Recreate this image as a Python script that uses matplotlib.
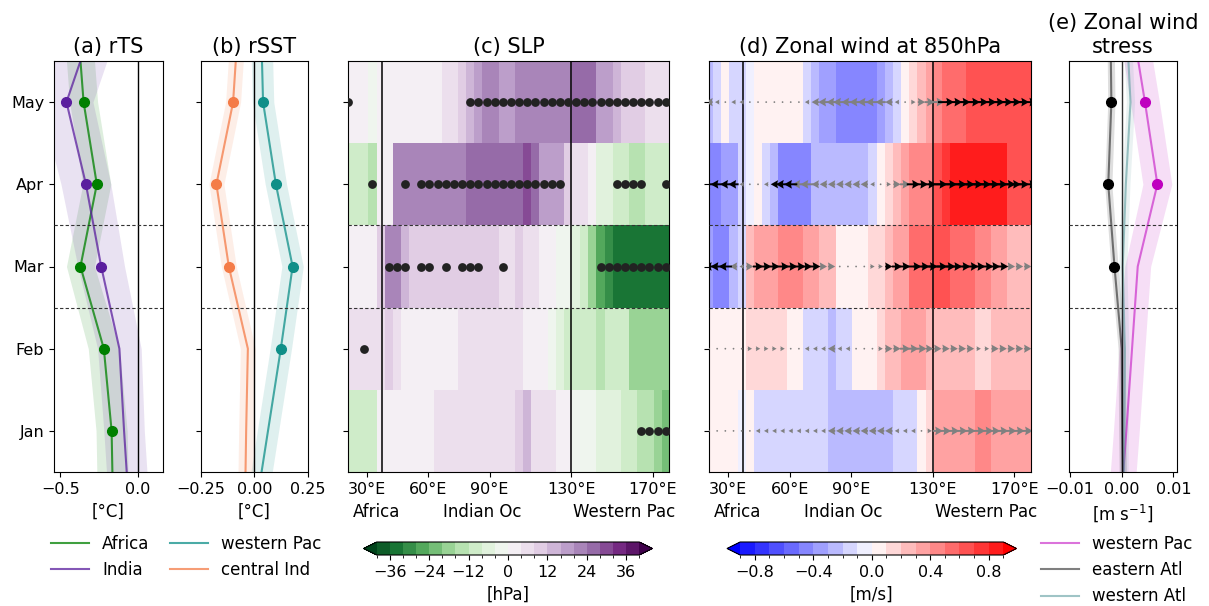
import numpy as np
import matplotlib.pyplot as plt
from matplotlib.colors import BoundaryNorm

# months on the y axis (Dec and Jun only used so lines run to the panel edges)
months = ['Jan', 'Feb', 'Mar', 'Apr', 'May']
month_pos = [-1, 0, 1, 2, 3, 4, 5]   # Dec .. Jun

# (a) rTS [degC]
rts_africa = [-0.16, -0.17, -0.22, -0.37, -0.265, -0.35, -0.39]
rts_africa_err = [0.10, 0.10, 0.10, 0.09, 0.09, 0.09, 0.09]
rts_africa_sig = [0, 1, 1, 1, 1, 1, 0]
rts_india = [-0.056, -0.09, -0.12, -0.237, -0.335, -0.46, -0.28]
rts_india_err = [0.13, 0.13, 0.14, 0.15, 0.16, 0.17, 0.17]
rts_india_sig = [0, 0, 0, 1, 1, 1, 0]

# (b) rSST [degC]
sst_wpac = [0.003, 0.063, 0.123, 0.178, 0.10, 0.04, 0.03]
sst_wpac_err = [0.05, 0.05, 0.05, 0.05, 0.05, 0.05, 0.05]
sst_wpac_sig = [0, 0, 1, 1, 1, 1, 0]
sst_cind = [-0.045, -0.039, -0.031, -0.12, -0.178, -0.10, -0.075]
sst_cind_err = [0.035, 0.035, 0.035, 0.035, 0.035, 0.035, 0.035]
sst_cind_sig = [0, 0, 0, 1, 1, 1, 0]

# (e) zonal wind stress [m s-1]
tau_wpac = [-0.0003, 0.0009, 0.0020, 0.0031, 0.0069, 0.0045, 0.0019]
tau_wpac_err = [0.0025, 0.0025, 0.0025, 0.0025, 0.0028, 0.0028, 0.0028]
tau_wpac_sig = [0, 0, 0, 0, 1, 1, 0]
tau_eatl = [0.0003, 0.0001, 0.0000, -0.0014, -0.0026, -0.0020, -0.0022]
tau_eatl_err = [0.0007, 0.0007, 0.0007, 0.0007, 0.0007, 0.0007, 0.0007]
tau_eatl_sig = [0, 0, 0, 1, 1, 1, 0]
tau_watl = [0.0004, 0.0005, 0.0006, 0.0002, 0.0008, 0.0017, 0.0009]
tau_watl_err = [0.0008, 0.0008, 0.0008, 0.0008, 0.0008, 0.0008, 0.0008]

# longitude grid for the Hovmoller-like panels
lons = np.arange(20.5, 177, 4)

# (c) SLP [hPa], rows Jan..May
slp_jan = [-10, -10, -10, -10, 2, 2, 2, 2, 2, 2, 2, 6, 6, 6, 6, 6, 6, 6, 6, 6,
           6, 10, 14, 6, 6, 6, 2, 2, -2, -2, -2, -6, -6, -6, -10, -10, -14, -14, -18, -22]
slp_feb = [6, 6, 6, 6, 6, 10, 6, 2, 2, 2, 2, 2, 2, 2, 6, 6, 6, 6, 6, 6,
           6, 6, 2, 2, 2, -2, -6, -10, -10, -10, -10, -14, -10, -10, -10, -18, -18, -18, -18, -18]
slp_mar = [2, 2, 2, 2, 10, 22, 22, 14, 10, 10, 10, 10, 10, 10, 10, 10, 10, 10, 10, 6,
           6, 10, 6, 6, 2, 2, -2, -2, -6, -10, -18, -26, -30, -34, -34, -34, -34, -34, -34, -34]
slp_apr = [-10, -10, -10, -14, 2, 2, 22, 22, 22, 22, 22, 22, 22, 22, 22, 26, 26, 26, 26, 26,
           26, 26, 30, 26, 18, 18, 18, 10, 6, 6, 2, -6, -6, -10, -10, -14, -14, -10, -10, -10]
slp_may = [2, 2, 2, -2, 2, 2, 2, 2, 2, 2, 2, 2, 6, 6, 10, 14, 18, 22, 22, 18,
           18, 22, 22, 22, 22, 22, 22, 22, 26, 26, 26, 18, 18, 14, 10, 10, 10, 6, 6, 6]
# significant grid points (index into lons)
slp_sig = {
    0: [36, 37, 38, 39],
    1: [2],
    2: [5, 6, 7, 9, 10, 12, 14, 15, 16, 19] + list(range(31, 40)),
    3: [3, 7] + list(range(9, 27)) + [33, 34, 35, 36, 39],
    4: [0] + list(range(15, 40)),
}

# (d) zonal wind at 850hPa [m/s], rows Jan..May
u_jan = [0.05, 0.05, 0.05, 0.05, -0.05, 0.05, -0.15, -0.15, -0.15, -0.15, -0.15, -0.15, -0.15, -0.15,
         -0.15, -0.25, -0.25, -0.25, -0.25, -0.25, -0.25, -0.25, -0.25, -0.15, -0.15, -0.15, 0.05,
         0.15, 0.35, 0.35, 0.35, 0.35, 0.35, 0.45, 0.45, 0.35, 0.35, 0.35, 0.35, 0.35]
u_feb = [0.05, 0.05, 0.05, 0.05, 0.05, 0.15, 0.15, 0.15, 0.15, 0.15, 0.05, 0.05, -0.15, -0.15,
         -0.15, -0.25, -0.15, -0.15, 0.05, 0.05, 0.05, 0.15, 0.25, 0.25, 0.35, 0.35, 0.35,
         0.25, 0.25, 0.25, 0.25, 0.25, 0.25, 0.15, 0.15, 0.25, 0.25, 0.25, 0.25, 0.25]
u_mar = [-0.35, -0.45, -0.45, -0.25, -0.15, 0.25, 0.35, 0.35, 0.35, 0.45, 0.45, 0.45, 0.35, 0.35,
         0.25, 0.25, 0.05, 0.05, 0.05, 0.05, 0.15, 0.15, 0.25, 0.35, 0.35, 0.55, 0.55,
         0.55, 0.65, 0.65, 0.55, 0.55, 0.55, 0.45, 0.45, 0.35, 0.35, 0.25, 0.25, 0.25]
u_apr = [-0.45, -0.45, -0.35, -0.35, -0.15, -0.05, 0.05, -0.15, -0.25, -0.45, -0.45, -0.45, -0.45,
         -0.25, -0.25, -0.25, -0.25, -0.25, -0.25, -0.25, -0.15, 0.05, 0.15, 0.25, 0.35, 0.45,
         0.45, 0.45, 0.65, 0.75, 0.85, 0.85, 0.85, 0.85, 0.85, 0.85, 0.85, 0.65, 0.65, 0.65]
u_may = [-0.25, -0.15, 0.05, -0.15, -0.15, -0.05, 0.05, 0.05, 0.05, 0.05, 0.05, 0.05, -0.15, -0.25,
         -0.35, -0.35, -0.45, -0.45, -0.45, -0.45, -0.45, -0.35, -0.25, -0.15, 0.05, 0.15, 0.25,
         0.35, 0.45, 0.55, 0.55, 0.55, 0.65, 0.65, 0.65, 0.65, 0.65, 0.65, 0.65, 0.65]
u_sig = {
    0: [],
    1: [],
    2: [0, 1, 2] + list(range(6, 14)) + list(range(22, 37)),
    3: [0, 1, 2, 3, 8, 9, 10] + list(range(25, 40)),
    4: list(range(29, 40)),
}

slp_levels = np.arange(-40, 41, 4)
u_levels = np.round(np.linspace(-0.9, 0.9, 19), 2)

fs_tick = 11.5
fs_title = 15
plt.rcParams['xtick.labelsize'] = fs_tick
plt.rcParams['ytick.labelsize'] = fs_tick

fig = plt.figure(figsize=(12.09, 6.06), dpi=100)
W, H = 1209, 606


def add_ax(x0, x1, y0=61, y1=472):
    return fig.add_axes([x0 / W, (H - y1) / H, (x1 - x0) / W, (y1 - y0) / H])


ax_a = add_ax(54, 163)
ax_b = add_ax(201, 308)
ax_c = add_ax(348, 669)
ax_d = add_ax(709, 1031)
ax_e = add_ax(1069, 1177)


def profile(ax, vals, err, sig, color, label, alpha=0.75):
    ln, = ax.plot(vals, month_pos, color=color, lw=1.5, alpha=alpha, label=label)
    lo = np.array(vals) - np.array(err)
    hi = np.array(vals) + np.array(err)
    ax.fill_betweenx(month_pos, lo, hi, color=color, alpha=0.13, lw=0)
    if sig is not None:
        xs = [v for v, s in zip(vals, sig) if s]
        ys = [p for p, s in zip(month_pos, sig) if s]
        ax.plot(xs, ys, 'o', color=color, ms=7)
    return ln


def frame(ax):
    ax.set_ylim(-0.5, 4.5)
    ax.set_yticks(range(5))
    ax.set_yticklabels([])
    for y in (1.5, 2.5):
        ax.axhline(y, color='#333333', lw=0.8, ls=(0, (3, 2)), zorder=4)


# (a)
h_af = profile(ax_a, rts_africa, rts_africa_err, rts_africa_sig, 'green', 'Africa')
h_in = profile(ax_a, rts_india, rts_india_err, rts_india_sig, '#5b1f9e', 'India')
ax_a.axvline(0, color='k', lw=1)
frame(ax_a)
ax_a.set_yticklabels(months)
ax_a.set_xlim(-0.54, 0.16)
ax_a.set_xticks([-0.5, 0.0])
ax_a.set_xlabel('[°C]', fontsize=12)
ax_a.set_title('(a) rTS', fontsize=fs_title)

# (b)
h_wp = profile(ax_b, sst_wpac, sst_wpac_err, sst_wpac_sig, '#0f8f88', 'western Pac')
h_ci = profile(ax_b, sst_cind, sst_cind_err, sst_cind_sig, '#f47c48', 'central Ind')
ax_b.axvline(0, color='k', lw=1)
frame(ax_b)
ax_b.set_xlim(-0.25, 0.25)
ax_b.set_xticks([-0.25, 0.0, 0.25])
ax_b.set_xlabel('[°C]', fontsize=12)
ax_b.set_title('(b) rSST', fontsize=fs_title)

# (c) SLP
slp = np.array([slp_jan, slp_feb, slp_mar, slp_apr, slp_may])
slp_norm = BoundaryNorm(slp_levels, 256, extend='both')
pc = ax_c.pcolormesh(lons, range(5), slp, cmap='PRGn_r', norm=slp_norm, shading='nearest')
for row, idx in slp_sig.items():
    ax_c.scatter(lons[idx], [row] * len(idx), s=40, color='#222222', zorder=5, lw=0)

# (d) zonal wind
uu = np.array([u_jan, u_feb, u_mar, u_apr, u_may])
u_norm = BoundaryNorm(u_levels, 256, extend='both')
pu = ax_d.pcolormesh(lons, range(5), uu, cmap='bwr', norm=u_norm, shading='nearest')
for row in range(5):
    sig = np.zeros(len(lons), bool)
    sig[u_sig[row]] = True
    for mask, col in ((~sig, 'grey'), (sig, 'k')):
        if mask.any():
            ax_d.quiver(lons[mask], np.full(mask.sum(), row), uu[row][mask], np.zeros(mask.sum()),
                        color=col, angles='xy', scale_units='x', scale=0.07, width=0.006,
                        headwidth=4.5, headlength=4, headaxislength=3.6, pivot='middle',
                        zorder=5)

for ax in (ax_c, ax_d):
    ax.axvline(37, color='k', lw=1.1, zorder=4)
    ax.axvline(130, color='k', lw=1.1, zorder=4)
    frame(ax)
    ax.set_xlim(20.5, 178.1)
    ax.set_xticks([30, 60, 90, 130, 170])
    ax.set_xticklabels(['30°E', '60°E', '90°E', '130°E', '170°E'])
    for xf, txt in ((0.09, 'Africa'), (0.417, 'Indian Oc'), (0.86, 'Western Pac')):
        ax.text(xf, -0.098, txt, transform=ax.transAxes, ha='center', va='center', fontsize=12)
ax_c.set_title('(c) SLP', fontsize=fs_title)
ax_d.set_title('(d) Zonal wind at 850hPa', fontsize=fs_title)

# (e)
h_tw = profile(ax_e, tau_wpac, tau_wpac_err, None, 'm', 'western Pac', alpha=0.55)
ax_e.plot([v for v, s in zip(tau_wpac, tau_wpac_sig) if s],
          [p for p, s in zip(month_pos, tau_wpac_sig) if s], 'o', color='m', ms=7)
h_te = profile(ax_e, tau_eatl, tau_eatl_err, None, 'k', 'eastern Atl', alpha=0.5)
ax_e.plot([v for v, s in zip(tau_eatl, tau_eatl_sig) if s],
          [p for p, s in zip(month_pos, tau_eatl_sig) if s], 'o', color='k', ms=7)
h_ta = profile(ax_e, tau_watl, tau_watl_err, None, 'cadetblue', 'western Atl', alpha=0.6)
ax_e.axvline(0, color='k', lw=1, alpha=0.8)
frame(ax_e)
ax_e.set_xlim(-0.0102, 0.0107)
ax_e.set_xticks([-0.01, 0.0, 0.01])
ax_e.set_xticklabels(['−0.01', '0.00', '0.01'])
ax_e.set_xlabel('[m s$^{-1}$]', fontsize=12)
ax_e.set_title('(e) Zonal wind\nstress', fontsize=fs_title)

# colorbars
cax_c = fig.add_axes([363.6 / W, (H - 555) / H, 288.8 / W, 13 / H])
cb_c = fig.colorbar(pc, cax=cax_c, orientation='horizontal', extend='both',
                    ticks=[-36, -24, -12, 0, 12, 24, 36])
cb_c.set_label('[hPa]', fontsize=12)
cb_c.ax.tick_params(labelsize=fs_tick)
cax_d = fig.add_axes([727 / W, (H - 555) / H, 289.5 / W, 13 / H])
cb_d = fig.colorbar(pu, cax=cax_d, orientation='horizontal', extend='both',
                    ticks=[-0.8, -0.4, 0.0, 0.4, 0.8])
cb_d.set_label('[m/s]', fontsize=12)
cb_d.ax.tick_params(labelsize=fs_tick)

# legends
fig.legend(handles=[h_af, h_in, h_wp, h_ci], ncol=2, frameon=False, fontsize=12,
           loc='upper left', bbox_to_anchor=(44 / W, (H - 528) / H), borderaxespad=0,
           handlelength=2.3, handletextpad=0.8, columnspacing=1.2)
fig.legend(handles=[h_tw, h_te, h_ta], ncol=1, frameon=False, fontsize=12,
           loc='upper left', bbox_to_anchor=(1034 / W, (H - 528) / H), borderaxespad=0,
           handlelength=2.3, handletextpad=0.8)

fig.savefig('out.png', dpi=100)
